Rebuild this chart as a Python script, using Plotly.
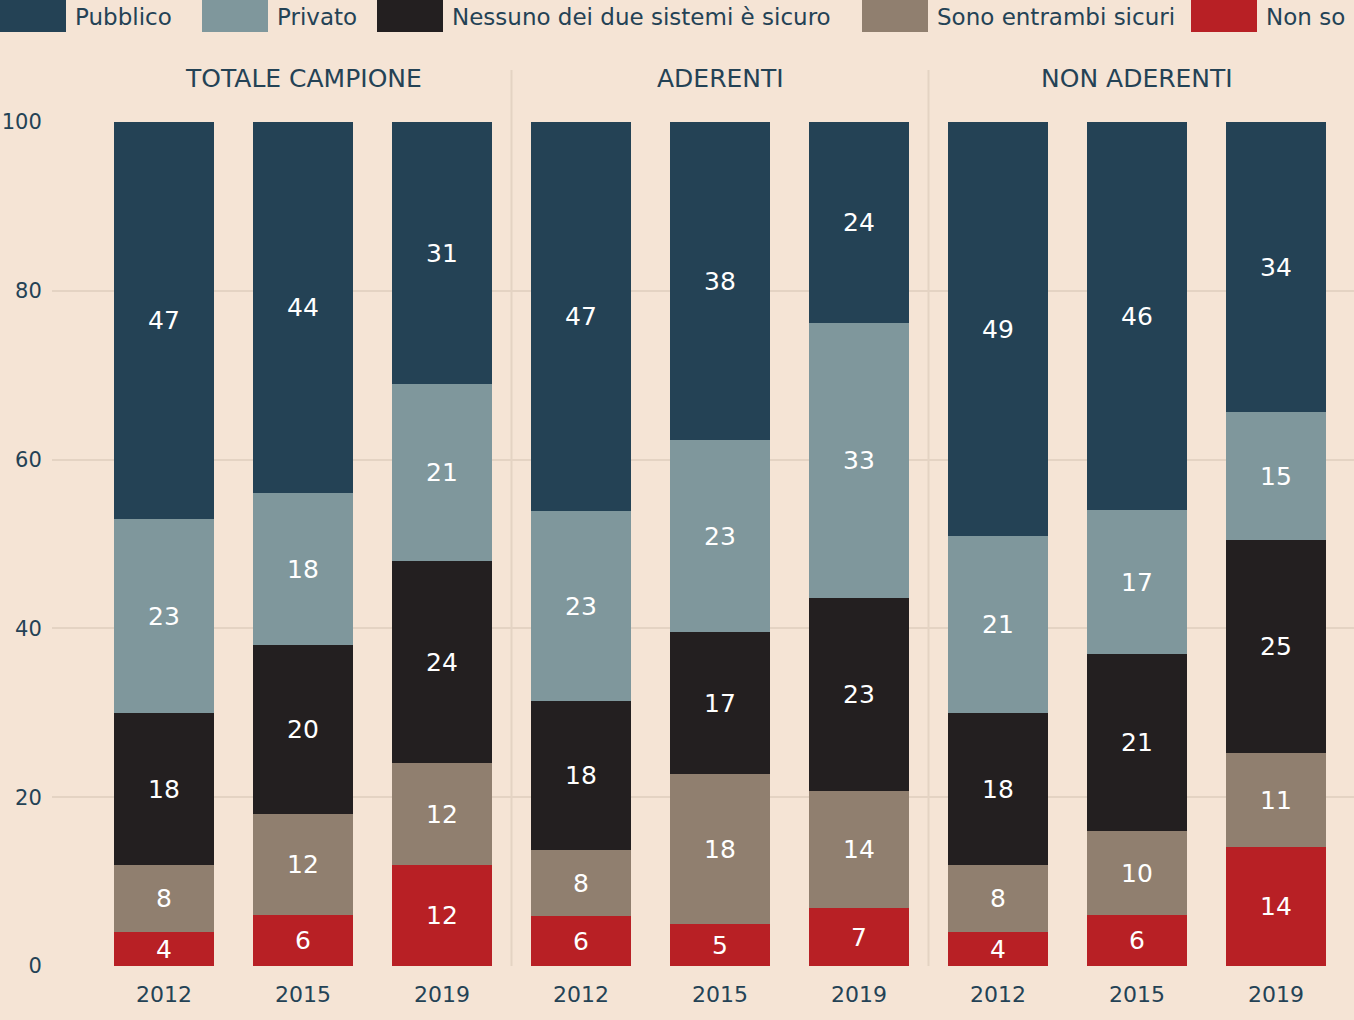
import plotly.graph_objects as go

# ---- data ----
groups = ["TOTALE CAMPIONE", "ADERENTI", "NON ADERENTI"]
years = ["2012", "2015", "2019"]
series = ["Pubblico", "Privato", "Nessuno dei due sistemi è sicuro", "Sono entrambi sicuri", "Non so"]
colors = ["#244255", "#7F979C", "#231F20", "#907F6F", "#B82025"]

# values per bar in order: TOT 2012,2015,2019, ADE 2012,2015,2019, NON 2012,2015,2019
non_so = [4, 6, 12, 6, 5, 7, 4, 6, 14]
entrambi = [8, 12, 12, 8, 18, 14, 8, 10, 11]
nessuno = [18, 20, 24, 18, 17, 23, 18, 21, 25]
privato = [23, 18, 21, 23, 23, 33, 21, 17, 15]
pubblico = [47, 44, 31, 47, 38, 24, 49, 46, 34]

yticks = [0, 20, 40, 60, 80, 100]

BG = "#F5E4D5"
TXT = "#244255"
GRID = "#E4D3C3"
FONT = "DejaVu Sans"

W, H = 1354, 1020
L, R, T, B = 52, 0, 122, 54
PW, PH = W - L - R, H - T - B


def px(x):
    return (x - L) / PW


def py(y):
    return (H - B - y) / PH


xs = list(range(len(non_so)))
tick_text = years * len(groups)

stack_order = [("Non so", non_so), ("Sono entrambi sicuri", entrambi),
               ("Nessuno dei due sistemi è sicuro", nessuno), ("Privato", privato),
               ("Pubblico", pubblico)]

fig = go.Figure()
for name, vals in stack_order:
    c = colors[series.index(name)]
    fig.add_trace(go.Bar(
        x=xs, y=vals, name=name, marker=dict(color=c, line=dict(width=0)),
        text=[str(v) for v in vals], textposition="inside", insidetextanchor="middle",
        textangle=0, constraintext="none",
        textfont=dict(color="white", size=25, family=FONT),
        width=0.72, showlegend=False, hoverinfo="skip",
    ))

shapes = []
annotations = []
# group separators
for sx in [2.5, 5.5]:
    shapes.append(dict(type="line", xref="x", yref="paper", x0=sx, x1=sx,
                       y0=0, y1=py(70), line=dict(color=GRID, width=2), layer="below"))
# group titles
for i, g in enumerate(groups):
    annotations.append(dict(text=g, x=3 * i + 1, xref="x", y=py(78), yref="paper",
                            showarrow=False, xanchor="center", yanchor="middle",
                            font=dict(size=25, color=TXT, family=FONT)))
# custom legend
box_x = [0, 202, 377, 862, 1191]
for i, name in enumerate(series):
    x0 = box_x[i]
    shapes.append(dict(type="rect", xref="paper", yref="paper",
                       x0=px(x0), x1=px(x0 + 66), y0=py(32), y1=py(0) + 0.01,
                       fillcolor=colors[i], line=dict(width=0)))
    annotations.append(dict(text=name, x=px(x0 + 73), xref="paper", y=py(17), yref="paper",
                            showarrow=False, xanchor="left", yanchor="middle",
                            font=dict(size=23, color=TXT, family=FONT)))

fig.update_layout(
    width=W, height=H, autosize=False, barmode="stack", barnorm="percent", bargap=0,
    paper_bgcolor=BG, plot_bgcolor=BG,
    margin=dict(l=L, r=R, t=T, b=B, pad=0, autoexpand=False),
    font=dict(family=FONT, color=TXT),
    shapes=shapes, annotations=annotations, showlegend=False,
    xaxis=dict(range=[-112 / 139, (W - 164) / 139], tickmode="array", tickvals=xs,
               ticktext=tick_text, showgrid=False, zeroline=False, showline=False,
               ticks="outside", ticklen=9, tickcolor=BG, automargin=False,
               tickfont=dict(size=22, color=TXT, family=FONT)),
    yaxis=dict(range=[0, 100], tickmode="array", tickvals=yticks, showgrid=True,
               gridcolor=GRID, gridwidth=2, zeroline=False, showline=False,
               ticks="outside", ticklen=5, tickcolor=BG, automargin=False,
               tickfont=dict(size=21, color=TXT, family=FONT)),
)

fig.write_html(
    "out.html",
    config={"displayModeBar": False},
    post_script="document.body.style.margin='0';document.body.style.overflow='hidden';",
)
